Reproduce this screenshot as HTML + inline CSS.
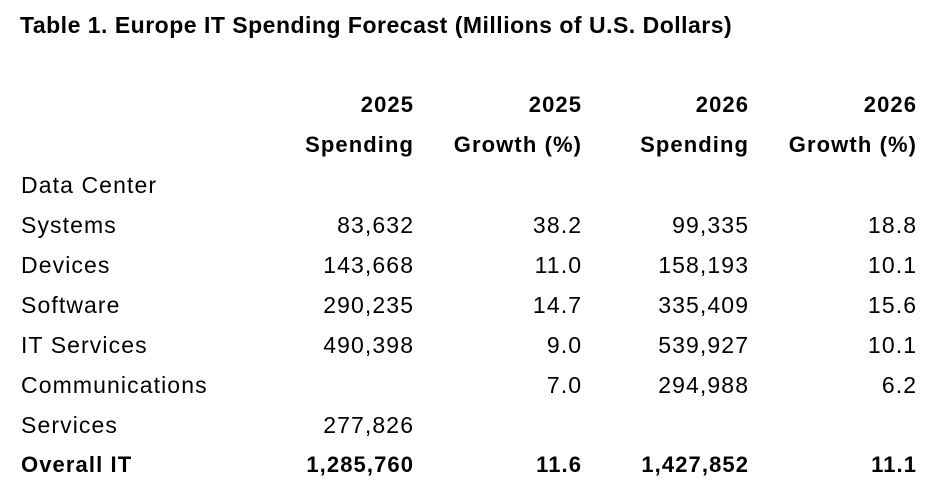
<!DOCTYPE html>
<html><head><meta charset="utf-8"><style>
body{margin:0;width:940px;height:499px;background:#fff;font-family:"Liberation Sans",Arial,sans-serif;color:#000;position:relative;overflow:hidden}
.t{position:absolute;left:20px;top:10px;font-size:23px;font-weight:bold;line-height:30px;letter-spacing:0.5px}
.r{position:absolute;left:0;width:940px;height:40px;line-height:40px;font-size:23px;letter-spacing:1.1px}
.r span{position:absolute;white-space:nowrap}
.l{left:21px}
.c1,.c2,.c3,.c4{margin-right:-1.1px}
.c1{right:527px}.c2{right:359px}.c3{right:192px}.c4{right:24px}
.b{font-weight:bold;letter-spacing:1.1px;font-size:22px}
</style></head><body>
<div class="t">Table 1. Europe IT Spending Forecast (Millions of U.S. Dollars)</div>
<div class="r b" style="top:85px"><span class="c1">2025</span><span class="c2">2025</span><span class="c3">2026</span><span class="c4">2026</span></div>
<div class="r b" style="top:125px"><span class="c1">Spending</span><span class="c2">Growth (%)</span><span class="c3">Spending</span><span class="c4">Growth (%)</span></div>
<div class="r" style="top:165px"><span class="l">Data Center</span></div>
<div class="r" style="top:205px"><span class="l">Systems</span><span class="c1">83,632</span><span class="c2">38.2</span><span class="c3">99,335</span><span class="c4">18.8</span></div>
<div class="r" style="top:245px"><span class="l">Devices</span><span class="c1">143,668</span><span class="c2">11.0</span><span class="c3">158,193</span><span class="c4">10.1</span></div>
<div class="r" style="top:285px"><span class="l">Software</span><span class="c1">290,235</span><span class="c2">14.7</span><span class="c3">335,409</span><span class="c4">15.6</span></div>
<div class="r" style="top:325px"><span class="l">IT Services</span><span class="c1">490,398</span><span class="c2">9.0</span><span class="c3">539,927</span><span class="c4">10.1</span></div>
<div class="r" style="top:365px"><span class="l">Communications</span><span class="c2">7.0</span><span class="c3">294,988</span><span class="c4">6.2</span></div>
<div class="r" style="top:405px"><span class="l">Services</span><span class="c1">277,826</span></div>
<div class="r b" style="top:445px"><span class="l">Overall IT</span><span class="c1">1,285,760</span><span class="c2">11.6</span><span class="c3">1,427,852</span><span class="c4">11.1</span></div>
</body></html>
